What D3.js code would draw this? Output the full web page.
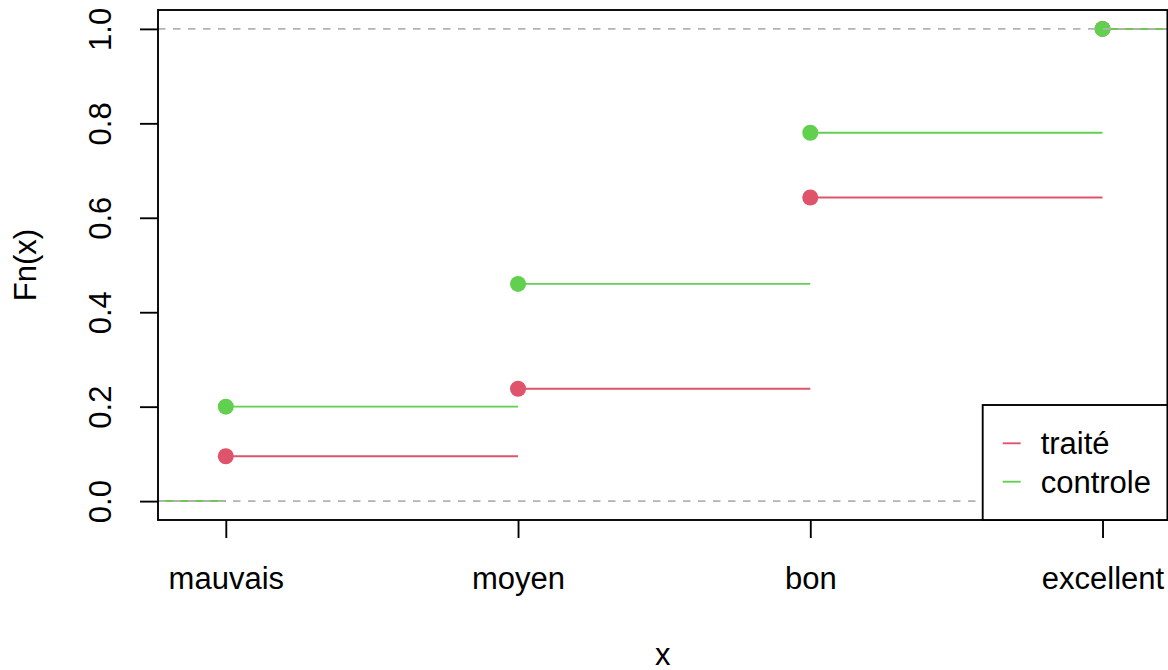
<!DOCTYPE html>
<html>
<head>
<meta charset="utf-8">
<script src="https://cdn.jsdelivr.net/npm/d3@7"></script>
<style>
  html, body { margin: 0; padding: 0; background: #fff; }
  svg { display: block; }
  text { font-family: "Liberation Sans", Arial, Helvetica, sans-serif; fill: #000; }
</style>
</head>
<body>
<svg id="chart" width="1168" height="670"></svg>
<script>
// Empirical CDFs of an ordinal rating for two groups
const categories = ["mauvais", "moyen", "bon", "excellent"];
const traite = [0.095, 0.238, 0.643, 1.0];
const controle = [0.2, 0.46, 0.78, 1.0];
const yTicks = [0, 0.2, 0.4, 0.6, 0.8, 1.0];
const seriesNames = ["traité", "controle"];
const seriesColors = ["#DF536B", "#61D04F"];

const W = 1168, H = 670;
const plot = { left: 158, right: 1167.4, top: 10, bottom: 520 };
const lw = 1.875;
const fontSize = "31px";

const svg = d3.select("#chart");

// category positions 1..n, with the usual 4% padding on each side
const x = d3.scaleLinear().domain([0.768, 4.222]).range([plot.left, plot.right]);
const y = d3.scaleLinear().domain([-0.04, 1.04]).range([plot.bottom, plot.top]);

svg.append("defs").append("clipPath").attr("id", "clip")
  .append("rect")
  .attr("x", plot.left).attr("y", plot.top)
  .attr("width", plot.right - plot.left).attr("height", plot.bottom - plot.top);

const g = svg.append("g").attr("clip-path", "url(#clip)");

// step functions: horizontal pieces plus a filled point at each jump
function drawStep(values, color) {
  const [x0, x1] = x.domain();
  const knots = categories.map((_, i) => i + 1);
  const segs = [{ a: x0, b: knots[0], v: 0 }];
  knots.forEach((k, i) => {
    segs.push({ a: k, b: i < knots.length - 1 ? knots[i + 1] : x1, v: values[i] });
  });
  g.append("g").selectAll("line").data(segs).join("line")
    .attr("x1", d => x(d.a)).attr("x2", d => x(d.b))
    .attr("y1", d => y(d.v)).attr("y2", d => y(d.v))
    .attr("stroke", color).attr("stroke-width", lw);
  g.append("g").selectAll("circle").data(values).join("circle")
    .attr("cx", (d, i) => x(knots[i])).attr("cy", d => y(d))
    .attr("r", 8).attr("fill", color);
}
drawStep(traite, seriesColors[0]);
drawStep(controle, seriesColors[1]);

// reference lines at 0 and 1
g.append("g").selectAll("line").data([0, 1]).join("line")
  .attr("x1", plot.left).attr("x2", plot.right)
  .attr("y1", d => y(d)).attr("y2", d => y(d))
  .attr("stroke", "#B3B3B3").attr("stroke-width", lw)
  .attr("stroke-dasharray", "7.5,7.5");

// axes
const xAxis = d3.axisBottom(x)
  .tickValues(categories.map((_, i) => i + 1))
  .tickFormat((d, i) => categories[i])
  .tickSize(18).tickPadding(0).tickSizeOuter(0);
const xa = svg.append("g").attr("transform", `translate(0,${plot.bottom})`).call(xAxis);
xa.select(".domain").remove();
xa.selectAll(".tick line").attr("stroke", "#000").attr("stroke-width", lw);
xa.selectAll(".tick text")
  .attr("y", 69).attr("dy", null)
  .style("font-size", fontSize)
  .style("font-family", '"Liberation Sans", Arial, sans-serif')
  .attr("fill", "#000");

const yAxis = d3.axisLeft(y)
  .tickValues(yTicks).tickFormat(d3.format(".1f"))
  .tickSize(18).tickPadding(0).tickSizeOuter(0);
const ya = svg.append("g").attr("transform", `translate(${plot.left},0)`).call(yAxis);
ya.select(".domain").remove();
ya.selectAll(".tick line").attr("stroke", "#000").attr("stroke-width", lw);
ya.selectAll(".tick text")
  .attr("x", null).attr("dy", null)
  .attr("text-anchor", "middle")
  .attr("transform", "translate(-47,0) rotate(-90)")
  .style("font-size", fontSize)
  .style("font-family", '"Liberation Sans", Arial, sans-serif')
  .attr("fill", "#000");

// plot frame
svg.append("rect")
  .attr("x", plot.left).attr("y", plot.top)
  .attr("width", plot.right - plot.left).attr("height", plot.bottom - plot.top)
  .attr("fill", "none").attr("stroke", "#000").attr("stroke-width", lw);

// axis titles
svg.append("text")
  .attr("x", (plot.left + plot.right) / 2).attr("y", 665)
  .attr("text-anchor", "middle").style("font-size", fontSize).text("x");
svg.append("text")
  .attr("transform", `translate(36,${(plot.top + plot.bottom) / 2}) rotate(-90)`)
  .attr("text-anchor", "middle").style("font-size", fontSize).text("Fn(x)");

// legend, bottom right
const leg = svg.append("g");
leg.append("rect")
  .attr("x", 982.7).attr("y", 405)
  .attr("width", plot.right - 982.7).attr("height", plot.bottom - 405)
  .attr("fill", "#fff").attr("stroke", "#000").attr("stroke-width", lw);
const rows = leg.selectAll("g.row").data(seriesNames).join("g")
  .attr("class", "row")
  .attr("transform", (d, i) => `translate(0,${443.3 + i * 38.4})`);
rows.append("line")
  .attr("x1", 1002.7).attr("x2", 1020.7).attr("y1", 0).attr("y2", 0)
  .attr("stroke", (d, i) => seriesColors[i]).attr("stroke-width", lw);
rows.append("text")
  .attr("x", 1040.7).attr("y", 11)
  .style("font-size", fontSize).text(d => d);
</script>
</body>
</html>
